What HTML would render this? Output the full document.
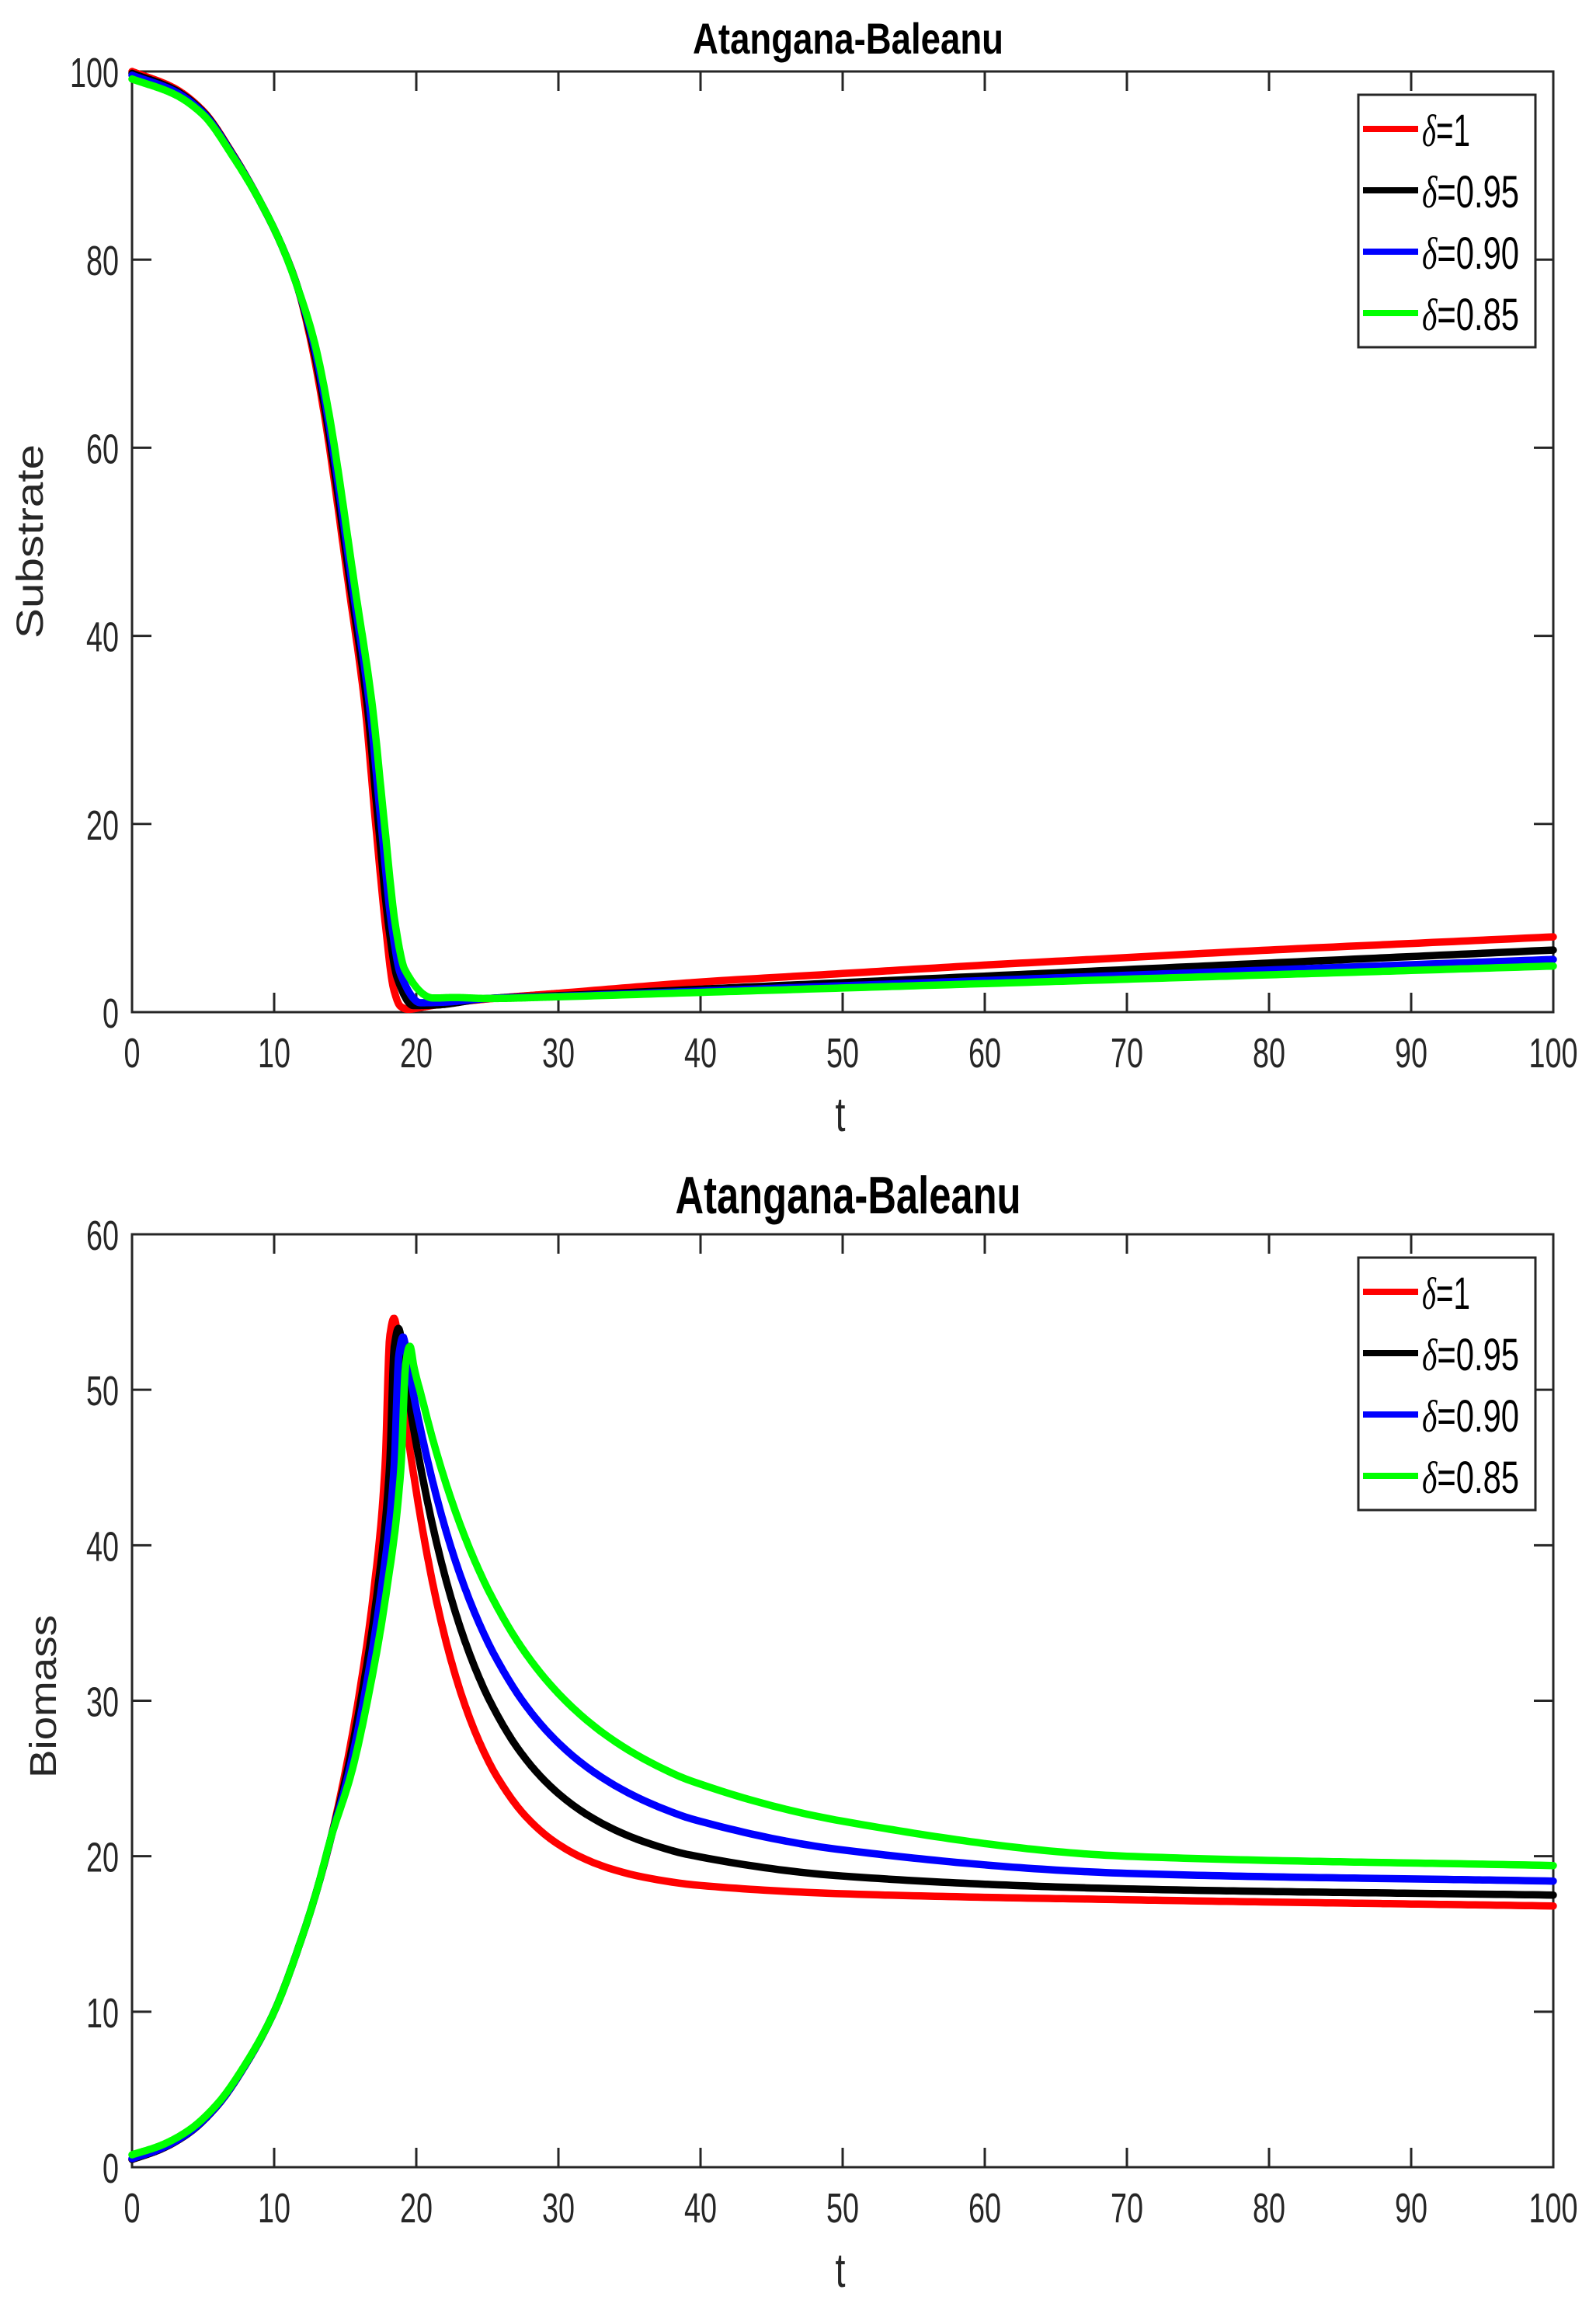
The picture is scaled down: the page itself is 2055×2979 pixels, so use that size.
<!DOCTYPE html>
<html><head><meta charset="utf-8"><style>
html,body{margin:0;padding:0;background:#fff;}
svg{display:block;}
text{font-family:"Liberation Sans",sans-serif;}
</style></head><body>
<svg id="s" width="2055" height="2979" xmlns="http://www.w3.org/2000/svg"></svg>
<script>
const S=document.getElementById('s');
const L=170,R=2000;
let h='';
function tx(t){return L+t*18.3;}
function mono(pts){
  pts=pts.slice().sort((a,b)=>a[0]-b[0]);
  const n=pts.length,xs=pts.map(p=>p[0]),ys=pts.map(p=>p[1]);
  const d=[],m=[];
  for(let i=0;i<n-1;i++)d.push((ys[i+1]-ys[i])/(xs[i+1]-xs[i]));
  m[0]=d[0];m[n-1]=d[n-2];
  for(let i=1;i<n-1;i++){
    if(d[i-1]*d[i]<=0)m[i]=0;
    else{const w1=2*(xs[i+1]-xs[i])+(xs[i]-xs[i-1]),w2=(xs[i+1]-xs[i])+2*(xs[i]-xs[i-1]);
      m[i]=(w1+w2)/(w1/d[i-1]+w2/d[i]);}
  }
  return t=>{let i=0;while(i<n-2&&t>xs[i+1])i++;
    const hh=xs[i+1]-xs[i],s=(t-xs[i])/hh,s2=s*s,s3=s2*s;
    return (2*s3-3*s2+1)*ys[i]+(s3-2*s2+s)*hh*m[i]+(-2*s3+3*s2)*ys[i+1]+(s3-s2)*hh*m[i+1];};
}
function axes(T,B,ymax,ystep,title,tw,tfs,tby,ylab,ylx,yly,ylw,tly){
  const sy=(B-T)/ymax;
  h+=`<rect x="${L}" y="${T}" width="${R-L}" height="${B-T}" fill="none" stroke="#262626" stroke-width="3"/>`;
  for(let t=0;t<=100;t+=10){const x=tx(t);
    h+=`<line x1="${x}" y1="${B}" x2="${x}" y2="${B-25}" stroke="#262626" stroke-width="3"/><line x1="${x}" y1="${T}" x2="${x}" y2="${T+25}" stroke="#262626" stroke-width="3"/>`;
    const s=String(t);h+=`<text x="${x}" y="${B+71}" text-anchor="middle" font-size="54" fill="#262626" textLength="${s.length*21}" lengthAdjust="spacingAndGlyphs">${s}</text>`;}
  for(let v=0;v<=ymax;v+=ystep){const y=B-v*sy;
    h+=`<line x1="${L}" y1="${y}" x2="${L+25}" y2="${y}" stroke="#262626" stroke-width="3"/><line x1="${R}" y1="${y}" x2="${R-25}" y2="${y}" stroke="#262626" stroke-width="3"/>`;
    const s=String(v);h+=`<text x="${153-s.length*21}" y="${y+20}" font-size="54" fill="#262626" textLength="${s.length*21}" lengthAdjust="spacingAndGlyphs">${s}</text>`;}
  h+=`<text x="${(L+R)/2+7-tw/2}" y="${tby}" font-size="${tfs}" font-weight="bold" textLength="${tw}" lengthAdjust="spacingAndGlyphs">${title}</text>`;
  h+=`<text transform="translate(${ylx},${yly}) rotate(-90)" text-anchor="middle" font-size="48" fill="#262626" textLength="${ylw}" lengthAdjust="spacingAndGlyphs">${ylab}</text>`;
  h+=`<text x="1082" y="${tly}" text-anchor="middle" font-size="62" fill="#262626" textLength="13" lengthAdjust="spacingAndGlyphs">t</text>`;
  return sy;
}
function series(T,B,sy,tabs){
  const cols=['#ff0000','#000000','#0000ff','#00ff00'];
  tabs.forEach((tab,i)=>{const f=mono(tab);let d='';
    for(let t=0;t<=100.001;t+=(t<30?0.05:0.5)){d+=(d?'L':'M')+tx(t).toFixed(1)+','+(B-f(t)*sy).toFixed(1);}
    h+=`<path d="${d}" fill="none" stroke="${cols[i]}" stroke-width="9.5" stroke-linejoin="round" stroke-linecap="round"/>`;});
}
function legend(T){
  const cols=['#ff0000','#000000','#0000ff','#00ff00'],labs=['1','0.95','0.90','0.85'];
  h+=`<rect x="1749" y="${T}" width="228" height="325" fill="#fff" stroke="#262626" stroke-width="3"/>`;
  for(let i=0;i<4;i++){const y=T+44+i*79;
    h+=`<line x1="1755" y1="${y}" x2="1826" y2="${y}" stroke="${cols[i]}" stroke-width="8"/>`;
    const w=labs[i].length*21+13;
    h+=`<text x="1831" y="${y+22}" font-size="58" textLength="${28+w}" lengthAdjust="spacingAndGlyphs"><tspan font-style="italic" font-family="Liberation Serif,serif">δ</tspan>=${labs[i]}</text>`;}
}
// Top: substrate
let sy=axes(92,1303,100,20,'Atangana-Baleanu',400,56,69,'Substrate',55,697,250,1456);
function sub(sh,mn,tm,end,early){
  const pts=[[0,100-early],[3,98.2-early*0.8],[5,95.8-early*0.5],[7.1,91.2-early*0.3],[9,86.2],[10.5,81.6],[11.66,77]];
  const steep=[[12.6,71.2],[13.48,64],[15.3,44.7],[16.4,32.4],[17.1,20.7],[17.85,9],[18.4,3]];
  steep.forEach((p,i)=>pts.push([p[0]+sh*(0.3+0.7*i/6),p[1]+(i==6?mn:0)]));
  pts.push([tm,mn],[tm+1.5,mn+0.05]);
  const a=(end-1.4)/75;
  pts.push([25,1.45],[30,1.4+a*5],[40,1.4+a*15],[50,1.4+a*25],[60,1.4+a*35],[70,1.4+a*45],[80,1.4+a*55],[90,1.4+a*65],[100,end]);
  return pts;
}
series(92,1303,sy,[
 [[0,100],[3,98.2],[5,95.8],[7.1,91.2],[9,86.2],[10.5,81.6],[11.66,77],[12.6,71.2],[13.48,64],[15.3,44.7],[16.4,32.4],[17.1,20.7],[17.85,9],[18.4,2.5],[18.9,0.6],[19.4,0.3],[20.5,0.55],[22,0.9],[25,1.4],[30,2],[40,3.2],[50,4.1],[60,5],[70,5.8],[80,6.6],[90,7.3],[100,8]],
 sub(0.25,0.7,19.8,6.6,0.2),sub(0.5,1.0,20.3,5.6,0.4),sub(0.8,1.5,21.2,4.9,0.8)]);
legend(122);
// Bottom: biomass
sy=axes(1589,2790,60,10,'Atangana-Baleanu',445,68,1562,'Biomass',72,2184,210,2944);
function bio(early,tp,bp,dec,base,tail){
  const pts=[[0,0.5+early],[2,1.15+early*0.8],[4,2.2+early*0.6],[6,3.95+early*0.4],[8,6.6+early*0.2],[10,10],[12,14.9],[13,17.8],[14,21.2]];
  const rs=tp-18.43;
  pts.push([15+rs*0.4,25.4],[16+rs*0.6,30.5],[17+rs*0.8,37],[17.8+rs,45],[tp-0.3,bp-1.2],[tp,bp]);
  const bl=t=>base+(tail-base)*(t-40)/60;
  pts.push([tp+0.3,bp-1.4]);
  for(let t=tp+0.8;t<=40;t+=(t<25?0.8:2.0)){
    pts.push([t,bl(t)+(bp-bl(tp))*dec(t-tp)]);
  }
  pts.push([50,bl(50)+(bp-bl(tp))*dec(50-tp)],[70,bl(70)],[100,tail]);
  return pts;
}
const ex2=(a,t1,t2)=>u=>a*Math.exp(-u/t1)+(1-a)*Math.exp(-u/t2);
series(1589,2790,sy,[
 bio(0,18.43,54.6,ex2(0.85,4.0,8),17.6,16.8),
 bio(0,18.75,53.95,ex2(0.65,4.2,10),18.3,17.5),
 bio(0.05,19.07,53.4,ex2(0.55,4.5,12),19.4,18.4),
 bio(0.3,19.55,52.8,ex2(0.5,5.2,14),20.6,19.4)]);
legend(1619);
S.innerHTML=h;
</script>
</body></html>
